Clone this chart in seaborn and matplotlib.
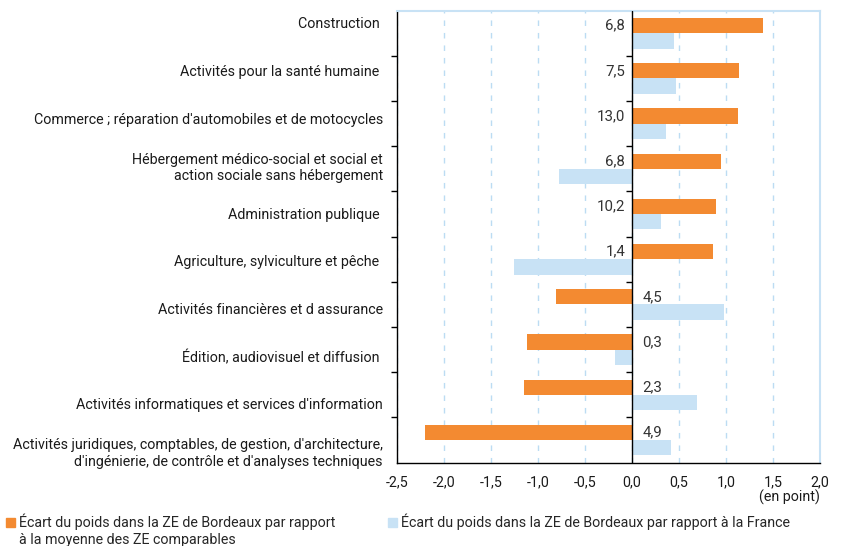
import matplotlib
matplotlib.use("Agg")
import matplotlib.pyplot as plt
from matplotlib.patches import Patch, Rectangle
from matplotlib.legend_handler import HandlerPatch
from matplotlib.ticker import FuncFormatter, FixedLocator
import numpy as np
import pandas as pd
import seaborn as sns

secteurs = [
    "Construction ",
    "Activités pour la santé humaine ",
    "Commerce ; réparation d'automobiles et de motocycles",
    "Hébergement médico-social et social et\naction sociale sans hébergement",
    "Administration publique ",
    "Agriculture, sylviculture et pêche ",
    "Activités financières et d assurance",
    "Édition, audiovisuel et diffusion ",
    "Activités informatiques et services d'information",
    "Activités juridiques, comptables, de gestion, d'architecture,\nd'ingénierie, de contrôle et d'analyses techniques",
]
ecart_ze = [1.39, 1.14, 1.13, 0.95, 0.89, 0.86, -0.81, -1.12, -1.15, -2.20]
ecart_france = [0.45, 0.47, 0.36, -0.77, 0.31, -1.25, 0.98, -0.18, 0.69, 0.42]
poids = [6.8, 7.5, 13.0, 6.8, 10.2, 1.4, 4.5, 0.3, 2.3, 4.9]

serie_ze = "Écart du poids dans la ZE de Bordeaux par rapport\nà la moyenne des ZE comparables"
serie_fr = "Écart du poids dans la ZE de Bordeaux par rapport à la France"

ORANGE = "#f38a31"
BLUE = "#c8e2f5"
GRID = "#bcdcf3"
TEXT = "#1a1a1a"
FS = 10.3

df = pd.DataFrame({
    "secteur": secteurs * 2,
    "serie": [serie_ze] * len(secteurs) + [serie_fr] * len(secteurs),
    "ecart": ecart_ze + ecart_france,
})

sns.set_theme(style="white")
plt.rcParams["font.family"] = ["Roboto", "DejaVu Sans"]
plt.rcParams["font.size"] = FS

fig = plt.figure(figsize=(8.41, 5.46), dpi=100)
ax = fig.add_axes([0.4717, 0.1526, 0.5033, 0.8278])

sns.barplot(data=df, y="secteur", x="ecart", hue="serie", orient="h",
            hue_order=[serie_ze, serie_fr], palette=[ORANGE, BLUE],
            width=0.68, saturation=1, linewidth=0, legend=False, ax=ax)

ax.set_xlim(-2.5, 2.0)
ax.set_ylim(len(secteurs) - 0.5, -0.5)
ax.set_xlabel("")
ax.set_ylabel("")

# grille verticale pointillée
ax.xaxis.set_major_locator(FixedLocator(np.arange(-2.5, 2.01, 0.5)))
ax.xaxis.set_major_formatter(FuncFormatter(lambda v, p: f"{v:.1f}".replace(".", ",").replace("-0,0", "0,0")))
ax.grid(axis="x", color=GRID, linestyle=(0, (4, 5)), linewidth=1)
ax.grid(axis="y", visible=False)
ax.set_axisbelow(True)
ax.axvline(0, color="black", linewidth=1, zorder=3)

# etiquettes des secteurs, un peu décalées comme dans l'original
label_pos = np.linspace(-0.23, len(secteurs) - 1 + 0.24, len(secteurs))
ax.set_yticks(label_pos)
ax.set_yticklabels(secteurs, fontsize=FS, color=TEXT)
ax.tick_params(axis="y", which="major", length=0, pad=10)
ax.set_yticks(np.arange(0.5, len(secteurs) - 1, 1), minor=True)
ax.tick_params(axis="y", which="minor", length=4, width=1, color="black", direction="out", left=True)
ax.tick_params(axis="x", length=0, pad=9, labelsize=FS, labelcolor=TEXT)

# petits traits à gauche de l'axe du zéro
bornes = np.arange(0.5, len(secteurs) - 1, 1)
ax.plot(np.zeros(len(bornes)), bornes, linestyle="none", marker=0, markersize=4.5,
        color="black", markeredgewidth=1, zorder=4)

for side in ["top", "right"]:
    ax.spines[side].set_color(BLUE)
    ax.spines[side].set_linewidth(1.5)
for side in ["left", "bottom"]:
    ax.spines[side].set_color("black")
    ax.spines[side].set_linewidth(1)

# poids du secteur
for i, (v, p) in enumerate(zip(ecart_ze, poids)):
    txt = f"{p:.1f}".replace(".", ",")
    if v >= 0:
        ax.text(-0.07, i - 0.17, txt, ha="right", va="center", fontsize=FS + 0.5, color="#333333")
    else:
        ax.text(0.11, i - 0.17, txt, ha="left", va="center", fontsize=FS + 0.5, color="#333333")

fig.text(820 / 841, 1 - 497 / 546, "(en point)", ha="right", va="center", fontsize=FS, color=TEXT)


def carre_haut(shift_em):
    # petit carré remonté sur la première ligne du libellé
    def make(legend, orig_handle, xdescent, ydescent, width, height, fontsize):
        return Rectangle((-xdescent, -ydescent + shift_em * fontsize), width, height)
    return HandlerPatch(patch_func=make)


fig.legend(handles=[Patch(color=ORANGE)], labels=[serie_ze], loc="upper left",
           bbox_to_anchor=(6 / 841, 1 - 514 / 546), frameon=False, fontsize=FS,
           handlelength=0.6, handleheight=0.6, handletextpad=0.3, borderpad=0, borderaxespad=0,
           handler_map={Patch: carre_haut(0.6)})
fig.legend(handles=[Patch(color=BLUE)], labels=[serie_fr], loc="upper left",
           bbox_to_anchor=(388 / 841, 1 - 514 / 546), frameon=False, fontsize=FS,
           handlelength=0.6, handleheight=0.6, handletextpad=0.3, borderpad=0, borderaxespad=0)

fig.savefig("out.png", dpi=100)
